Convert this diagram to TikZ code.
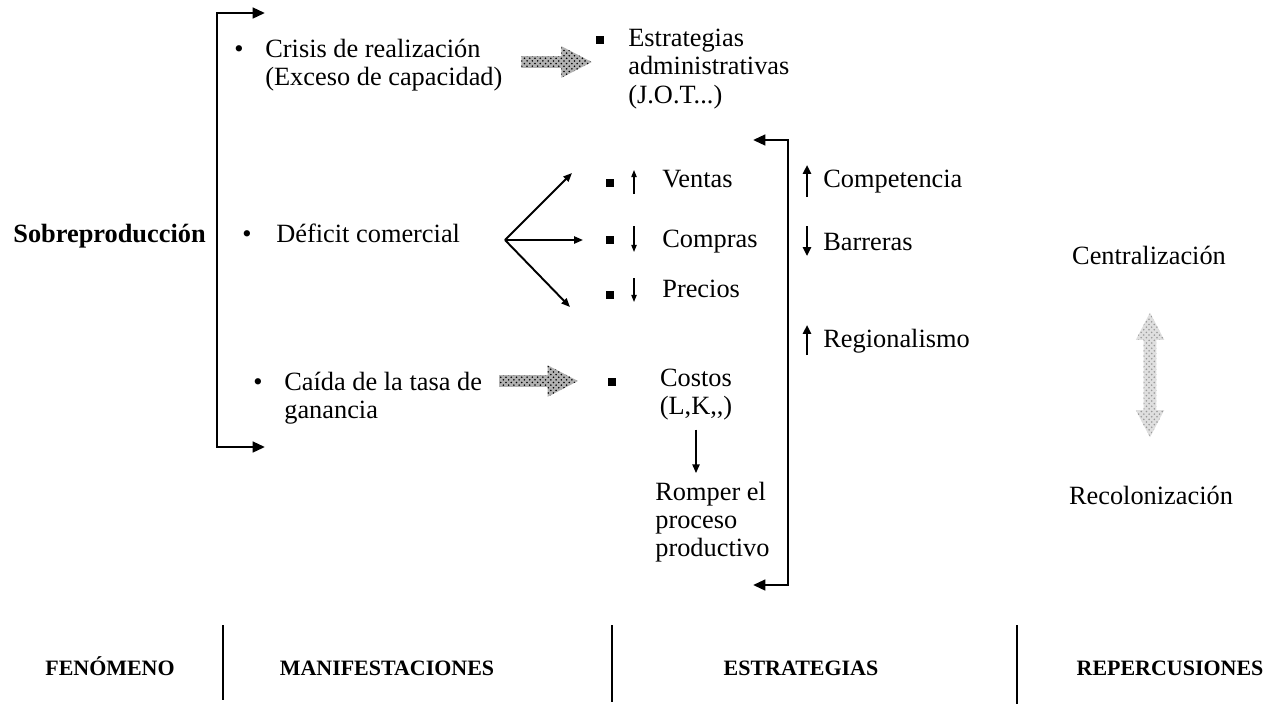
\documentclass[tikz,border=0pt]{standalone}
\usepackage{fontspec}
\setmainfont{Liberation Serif}
\usetikzlibrary{positioning, arrows.meta, shapes.arrows, patterns, calc}

\begin{document}
\begin{tikzpicture}[
    x=0.02cm, y=-0.02cm,
    txt/.style={inner sep=0pt, align=left, font=\fontsize{15}{16}\selectfont},
    head/.style={inner sep=0pt, anchor=base, font=\fontsize{12.5}{14}\selectfont\bfseries},
    sqb/.style={fill, minimum size=5pt, inner sep=0pt},
    brk/.style={line width=1.5pt, {Triangle[length=7pt, width=6pt]}-{Triangle[length=7pt, width=6pt]}},
    fan/.style={line width=1.1pt, -{Triangle[length=5pt, width=4pt]}},
    updown/.style={line width=0.7pt, -{Triangle[length=4pt, width=3pt]}},
    bigud/.style={line width=1.6pt, -{Triangle[length=5pt, width=4.5pt]}},
    sep/.style={line width=1.6pt},
    harrow/.style={single arrow, draw=none, preaction={fill=gray!60}, pattern=crosshatch dots, pattern color=black,
      inner sep=3.1pt, text height=0pt, text depth=0pt, single arrow head extend=5.7pt,
      single arrow tip angle=55},
    darrow/.style={double arrow, draw=none, preaction={fill=gray!25}, pattern=crosshatch dots, pattern color=gray!80,
      inner sep=3.4pt, text height=0pt, text depth=0pt, double arrow head extend=4.5pt,
      double arrow tip angle=55, minimum height=71pt, rotate=90},
  ]
  \useasboundingbox (0,0) rectangle (1266,704);

  % fenomeno
  \node[txt, font=\fontsize{15}{16}\selectfont\bfseries, anchor=base west] (sobre) at (13,242) {Sobreproducción};
  \coordinate (lbtop) at (265,13);
  \coordinate (lbbot) at (265,447);
  \draw[brk] (lbtop) -- (217,13) -- (217,447) -- (lbbot);

  % manifestaciones
  \node[txt, anchor=base] (bul1) at (239,57) {\textbullet};
  \node[txt, anchor=north west] (crisis) at (265,39) {Crisis de realización\\(Exceso de capacidad)};
  \node[harrow, minimum height=40pt] (hat1) at (551,62) {};

  \node[txt, anchor=base] (bul2) at (247,242) {\textbullet};
  \node[txt, anchor=base west] (defi) at (276,242) {Déficit comercial};

  \node[txt, anchor=base] (bul3) at (258,390) {\textbullet};
  \node[txt, anchor=north west] (caida) at (284,372) {Caída de la tasa de\\ganancia};
  \node[harrow, minimum height=44.8pt] (hat2) at (533,381) {};

  % estrategias
  \node[sqb] (sq1) at (600,40) {};
  \node[txt, anchor=north west] (admin) at (628,29) {Estrategias\\administrativas\\(J.O.T...)};

  \node[sqb] (sq2) at (610,183) {};
  \node[sqb] (sq3) at (610,240) {};
  \node[sqb] (sq4) at (610,295) {};
  \node[txt, anchor=base west] (ventas) at (662,187) {Ventas};
  \node[txt, anchor=base west] (compras) at (662,247) {Compras};
  \node[txt, anchor=base west] (precios) at (662,297) {Precios};
  \draw[updown] ($(ventas.base west)+(-28,7)$) -- ++(0,-24);
  \draw[updown] ($(compras.base west)+(-28,-21)$) -- ++(0,26);
  \draw[updown] ($(precios.base west)+(-28,-19)$) -- ++(0,24);

  \coordinate (fan) at (505,240);
  \coordinate (fv) at (572,173);
  \coordinate (fc) at (583,240);
  \coordinate (fp) at (570,307);
  \draw[fan] (fan) -- (fv);
  \draw[fan] (fan) -- (fc);
  \draw[fan] (fan) -- (fp);

  \node[sqb] (sq5) at (612,382) {};
  \node[txt, align=center, anchor=north] (costos) at (696,369) {Costos\\(L,K,{},)};
  \node[txt, anchor=north west] (romper) at (655,482) {Romper el\\proceso\\productivo};
  \draw[fan, shorten <=5pt, shorten >=5pt] (costos.south) -- (costos.south |- romper.north);

  \coordinate (rbtop) at (753,140);
  \coordinate (rbbot) at (753,585);
  \draw[brk] (rbtop) -- (788,140) -- (788,585) -- (rbbot);

  \node[txt, anchor=base west] (compet) at (823,187) {Competencia};
  \node[txt, anchor=base west] (barre) at (823,250) {Barreras};
  \node[txt, anchor=base west] (region) at (823,347) {Regionalismo};
  \draw[bigud] ($(compet.base west)+(-16,10)$) -- ++(0,-32);
  \draw[bigud] ($(barre.base west)+(-16,-24)$) -- ++(0,30);
  \draw[bigud] ($(region.base west)+(-16,8)$) -- ++(0,-30);

  % repercusiones
  \node[txt, anchor=base] (central) at (1149,264) {Centralización};
  \node[txt, anchor=base] (recolo) at (1151,504) {Recolonización};
  \node[darrow] (dbl) at ($(central)!0.5!(recolo)$) {};

  % columnas
  \draw[sep] (223,625) -- (223,700);
  \draw[sep] (612,625) -- (612,702);
  \draw[sep] (1017,625) -- (1017,704);
  \node[head] (fen) at (110,675) {FENÓMENO};
  \node[head] (mani) at (387,675) {MANIFESTACIONES};
  \node[head] (estra) at (801,675) {ESTRATEGIAS};
  \node[head] (reper) at (1170,675) {REPERCUSIONES};
\end{tikzpicture}
\end{document}
